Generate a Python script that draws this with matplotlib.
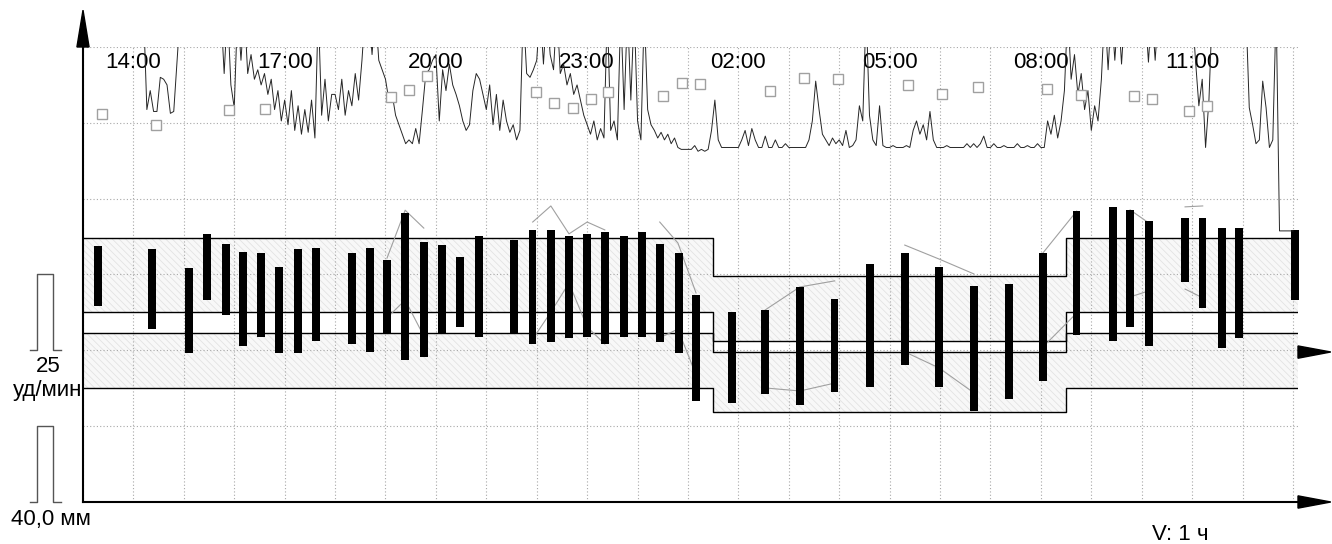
import numpy as np
import matplotlib.pyplot as plt
from matplotlib.patches import Polygon
import matplotlib.transforms as mtransforms

plt.rcParams['font.family'] = ['Liberation Sans', 'DejaVu Sans']
plt.rcParams['hatch.linewidth'] = 0.5

# time axis: hours after 13:00
label_hours = [1, 4, 7, 10, 13, 16, 19, 22]
hour_labels = ['14:00', '17:00', '20:00', '23:00', '02:00', '05:00', '08:00', '11:00']

# heart rate bars (min / max, bpm)
bar_t = [0.30, 1.37, 2.10, 2.46, 2.84, 3.17, 3.53, 3.89, 4.26, 4.62,
         5.34, 5.69, 6.03, 6.39, 6.76, 7.12, 7.48, 7.85,
         8.55, 8.92, 9.28, 9.64, 10.00, 10.35, 10.73, 11.09, 11.44,
         11.82, 12.16, 12.87, 13.53, 14.22, 14.91, 15.61, 16.30, 16.98, 17.67,
         18.37, 19.04, 19.71, 20.43, 20.77, 21.14, 21.86, 22.21, 22.59, 22.93, 24.04]
bar_max = [114.4, 113.4, 107.1, 118.4, 115.1, 112.4, 112.1, 107.5, 113.4, 113.7,
           112.1, 113.7, 109.8, 125.3, 115.7, 114.7, 110.8, 117.7,
           116.4, 119.7, 119.7, 117.7, 118.4, 119.0, 117.7, 119.0, 115.1,
           112.1, 98.2, 92.6, 93.3, 100.9, 96.9, 108.5, 112.1, 107.5, 101.2,
           101.9, 112.1, 125.9, 127.3, 126.3, 122.6, 123.6, 123.6, 120.3, 120.3, 119.7]
bar_min = [94.6, 87.0, 79.1, 96.6, 91.7, 81.4, 84.4, 79.1, 79.1, 83.1,
           82.1, 79.5, 85.7, 76.8, 77.8, 85.7, 87.7, 84.4,
           85.7, 82.1, 82.8, 84.1, 84.4, 82.1, 84.4, 84.4, 82.8,
           79.1, 63.3, 62.6, 65.6, 62.0, 66.3, 67.9, 75.2, 67.9, 60.0,
           64.0, 69.9, 85.1, 83.1, 87.7, 81.4, 102.5, 94.0, 80.8, 84.1, 96.6]

# normal ranges: day / night / day
band_t = [0, 12.5, 19.5, 24.1]
band_top = [117.0, 104.5, 117.0]
band_upper_low = [92.6, 83.1, 92.6]
band_lower_high = [85.7, 79.5, 85.7]
band_bottom = [67.6, 59.7, 67.6]

# thin gray trend lines (nan = break)
nan = np.nan
trend_t = [6.03, 6.39, 6.76, nan, 8.92, 9.28, 9.64, 10.00, 10.35, nan,
           11.44, 11.80, 12.16, nan, 13.53, 14.22, 14.91, nan,
           16.30, 16.98, 17.67, nan, 19.04, 19.71, nan, 20.77, 21.14, nan, 21.86, 22.21]
trend_hi = [110.4, 126.2, 120.3, nan, 122.3, 127.6, 118.4, 122.3, 119.7, nan,
            122.3, 115.4, 98.9, nan, 93.3, 100.9, 102.9, nan,
            114.7, 110.1, 105.2, nan, 112.1, 125.9, nan, 126.3, 122.0, nan, 127.3, 127.6]
trend_lo = [90.7, 96.6, 84.7, nan, 83.7, 92.6, 102.2, 87.7, 82.1, nan,
            84.1, 87.0, 71.9, nan, 67.6, 66.6, 69.2, nan,
            79.5, 74.2, 66.0, nan, 81.1, 92.3, nan, 97.6, 99.6, nan, 100.2, 97.3]

# open squares in the upper panel (mm)
sq_t = [0.38, 1.45, 2.90, 3.61, 6.11, 6.47, 6.82, 8.98, 9.34, 9.72, 10.08, 10.41,
        11.50, 11.88, 12.24, 13.63, 14.30, 14.97, 16.36, 17.04, 17.75,
        19.12, 19.79, 20.84, 21.20, 21.94, 22.29]
sq_v = [204.7, 198.9, 206.8, 207.3, 213.6, 217.3, 224.7, 216.3, 210.5, 207.8, 212.6, 216.3,
        214.2, 221.0, 220.5, 216.8, 223.7, 223.1, 220.0, 215.2, 218.9,
        217.9, 214.7, 214.2, 212.6, 206.3, 208.9]

# upper trace (mm), one value every 4 minutes; OFF = above the panel
OFF = 260
trace = [
    OFF, OFF, OFF, OFF, OFF, OFF, OFF, OFF, OFF, OFF, OFF, OFF, OFF, OFF, OFF,
    OFF, OFF, OFF, OFF, 207, 217, 206, 206, 224, 223, 220, 205, 206, 233, OFF,
    OFF, OFF, OFF, OFF, OFF, OFF, OFF, OFF, OFF, OFF, OFF, OFF, 226, OFF, 220,
    208, OFF, 233, OFF, 226, 236, 223, 228, 220, 226, 215, 223, 207, 217, 201,
    212, 199, 217, 196, 209, 194, 207, 195, 212, 192, OFF, 204, 223, 201, 215,
    215, 207, 223, 204, 217, 209, 226, 212, 233, OFF, OFF, 236, OFF, 233, 228,
    223, 212, 215, 204, 199, 194, 189, 191, 189, 197, 189, 207, 226, 228, 233,
    236, 201, 228, 217, 231, 220, 215, 209, 201, 196, 199, 217, 226, 223, 215,
    207, 220, 199, 215, 196, 212, 201, 195, 199, 191, 196, OFF, 226, 224, 228,
    233, OFF, 231, OFF, 236, 228, OFF, 226, 231, 220, 226, 215, 220, 212, 204,
    199, 194, 201, 191, 197, 192, OFF, 196, 201, 191, OFF, 207, OFF, 212, OFF,
    201, 191, OFF, 207, 199, 196, 192, 195, 191, 194, 189, 192, 187, 186, 186,
    186, 186, 188, 185, 186, 185, 186, 196, 212, 191, 187, 187, 187, 187, 187,
    187, 191, 196, 188, 197, 191, 187, 187, 193, 187, 187, 191, 187, 187, 189,
    187, 187, 187, 187, 187, 187, 191, 201, 222, 207, 194, 191, 188, 192, 189,
    191, 188, 196, 187, 188, 191, 209, 201, OFF, 204, 191, 188, 209, 188, 187,
    187, 188, 187, 187, 187, 188, 187, 196, 201, 194, 199, 191, 206, 191, 187,
    187, 187, 188, 187, 187, 187, 187, 187, 189, 187, 189, 187, 189, 193, 187,
    187, 189, 187, 187, 188, 187, 187, 187, 189, 187, 187, 188, 187, 187, 189,
    187, 187, 201, 194, 204, 192, 201, 217, OFF, 223, 236, 215, 226, 207, 217,
    196, 209, 201, 223, OFF, 228, OFF, 233, OFF, 231, OFF, OFF, OFF, OFF, OFF,
    OFF, OFF, 232, OFF, 233, OFF, OFF, OFF, OFF, OFF, OFF, OFF, OFF, OFF, OFF,
    OFF, 233, 209, 223, 187, 212, OFF, OFF, OFF, OFF, OFF, OFF, OFF, OFF, OFF,
    OFF, OFF, 208, 199, 189, 191, 222, 208, 187, 191, OFF, 143, 143, 143, 143,
    143,
]
trace_t = np.arange(len(trace)) * 4 / 60.0

fig = plt.figure(figsize=(13.32, 5.44), dpi=100)
ax = fig.add_axes([83 / 1332, 42 / 544, 1215 / 1332, 455 / 544])
ax.set_xlim(0, 24.1)
ax.set_ylim(30, 180)

# grid
ax.set_xticks(range(25))
ax.set_yticks(range(30, 181, 25))
ax.grid(True, color='#a8a8a8', linestyle=(0, (1, 2)), linewidth=0.8)
ax.tick_params(length=0, labelbottom=False, labelleft=False)
for s in ['top', 'right']:
    ax.spines[s].set_visible(False)
for s in ['left', 'bottom']:
    ax.spines[s].set_linewidth(1.5)

# shaded bands
def ext(v):
    return list(v) + [v[-1]]

for lo, hi in [(band_upper_low, band_top), (band_bottom, band_lower_high)]:
    ax.fill_between(band_t, ext(lo), ext(hi), step='post', facecolor='#f8f8f8',
                    edgecolor='#e0e0e0', hatch='\\\\\\\\\\', linewidth=0, zorder=1)
for v in [band_top, band_upper_low, band_lower_high, band_bottom]:
    ax.step(band_t, ext(v), where='post', color='black', linewidth=1.0, zorder=2)

# trend lines and bars
ax.plot(trend_t, trend_hi, color='#a0a0a0', linewidth=0.8, zorder=2.5)
ax.plot(trend_t, trend_lo, color='#a0a0a0', linewidth=0.8, zorder=2.5)
heights = np.array(bar_max) - np.array(bar_min)
ax.bar(bar_t, heights, bottom=bar_min, width=0.15, color='black', zorder=3, clip_on=False)

# time labels
for h, lab in zip(label_hours, hour_labels):
    ax.text(h, 0.967, lab, transform=ax.get_xaxis_transform(), ha='center', va='center',
            fontsize=16, zorder=5)

# upper panel (mm scale)
ax2 = ax.twinx()
ax2.set_ylim(0, 240)
ax2.axis('off')
ax2.plot(trace_t, trace, color='#262626', linewidth=0.7)
ax2.plot(sq_t, sq_v, linestyle='none', marker='s', markersize=6.5,
         markerfacecolor='white', markeredgecolor='#a0a0a0', markeredgewidth=1.0)

# arrows
arrow_kw = dict(closed=True, facecolor='black', edgecolor='black', clip_on=False,
                transform=ax.transAxes, zorder=6)
ax.add_patch(Polygon([(-0.005, 1.0), (0.005, 1.0), (0, 1.081)], **arrow_kw))
ax.add_patch(Polygon([(1.0, -0.0135), (1.0, 0.0135), (1.027, 0)], **arrow_kw))
ax.add_patch(Polygon([(1.0, 0.316), (1.0, 0.343), (1.027, 0.3297)], **arrow_kw))

# scale marks on the left: 25 bpm and 40 mm
tr1 = mtransforms.blended_transform_factory(ax.transAxes, ax.transData)
tr2 = mtransforms.blended_transform_factory(ax.transAxes, ax2.transData)
xs = [-0.0436, -0.0379, -0.0379, -0.0247, -0.0247, -0.0181]
ax.plot(xs, [80, 80, 105, 105, 80, 80], transform=tr1, color='#555555',
        linewidth=1.0, clip_on=False)
ax2.plot(xs, [0, 0, 40, 40, 0, 0], transform=tr2, color='#555555',
         linewidth=1.0, clip_on=False)

ax.text(-0.0285, 0.286, '25', transform=ax.transAxes, ha='center', va='baseline', fontsize=16)
ax.text(-0.0295, 0.233, 'уд/мин', transform=ax.transAxes, ha='center', va='baseline', fontsize=16)
ax.text(-0.0265, -0.0505, '40,0 мм', transform=ax.transAxes, ha='center', va='baseline', fontsize=16)
ax.text(0.903, -0.0835, 'V: 1 ч', transform=ax.transAxes, ha='center', va='baseline', fontsize=16)

fig.savefig('out.png', dpi=100)
